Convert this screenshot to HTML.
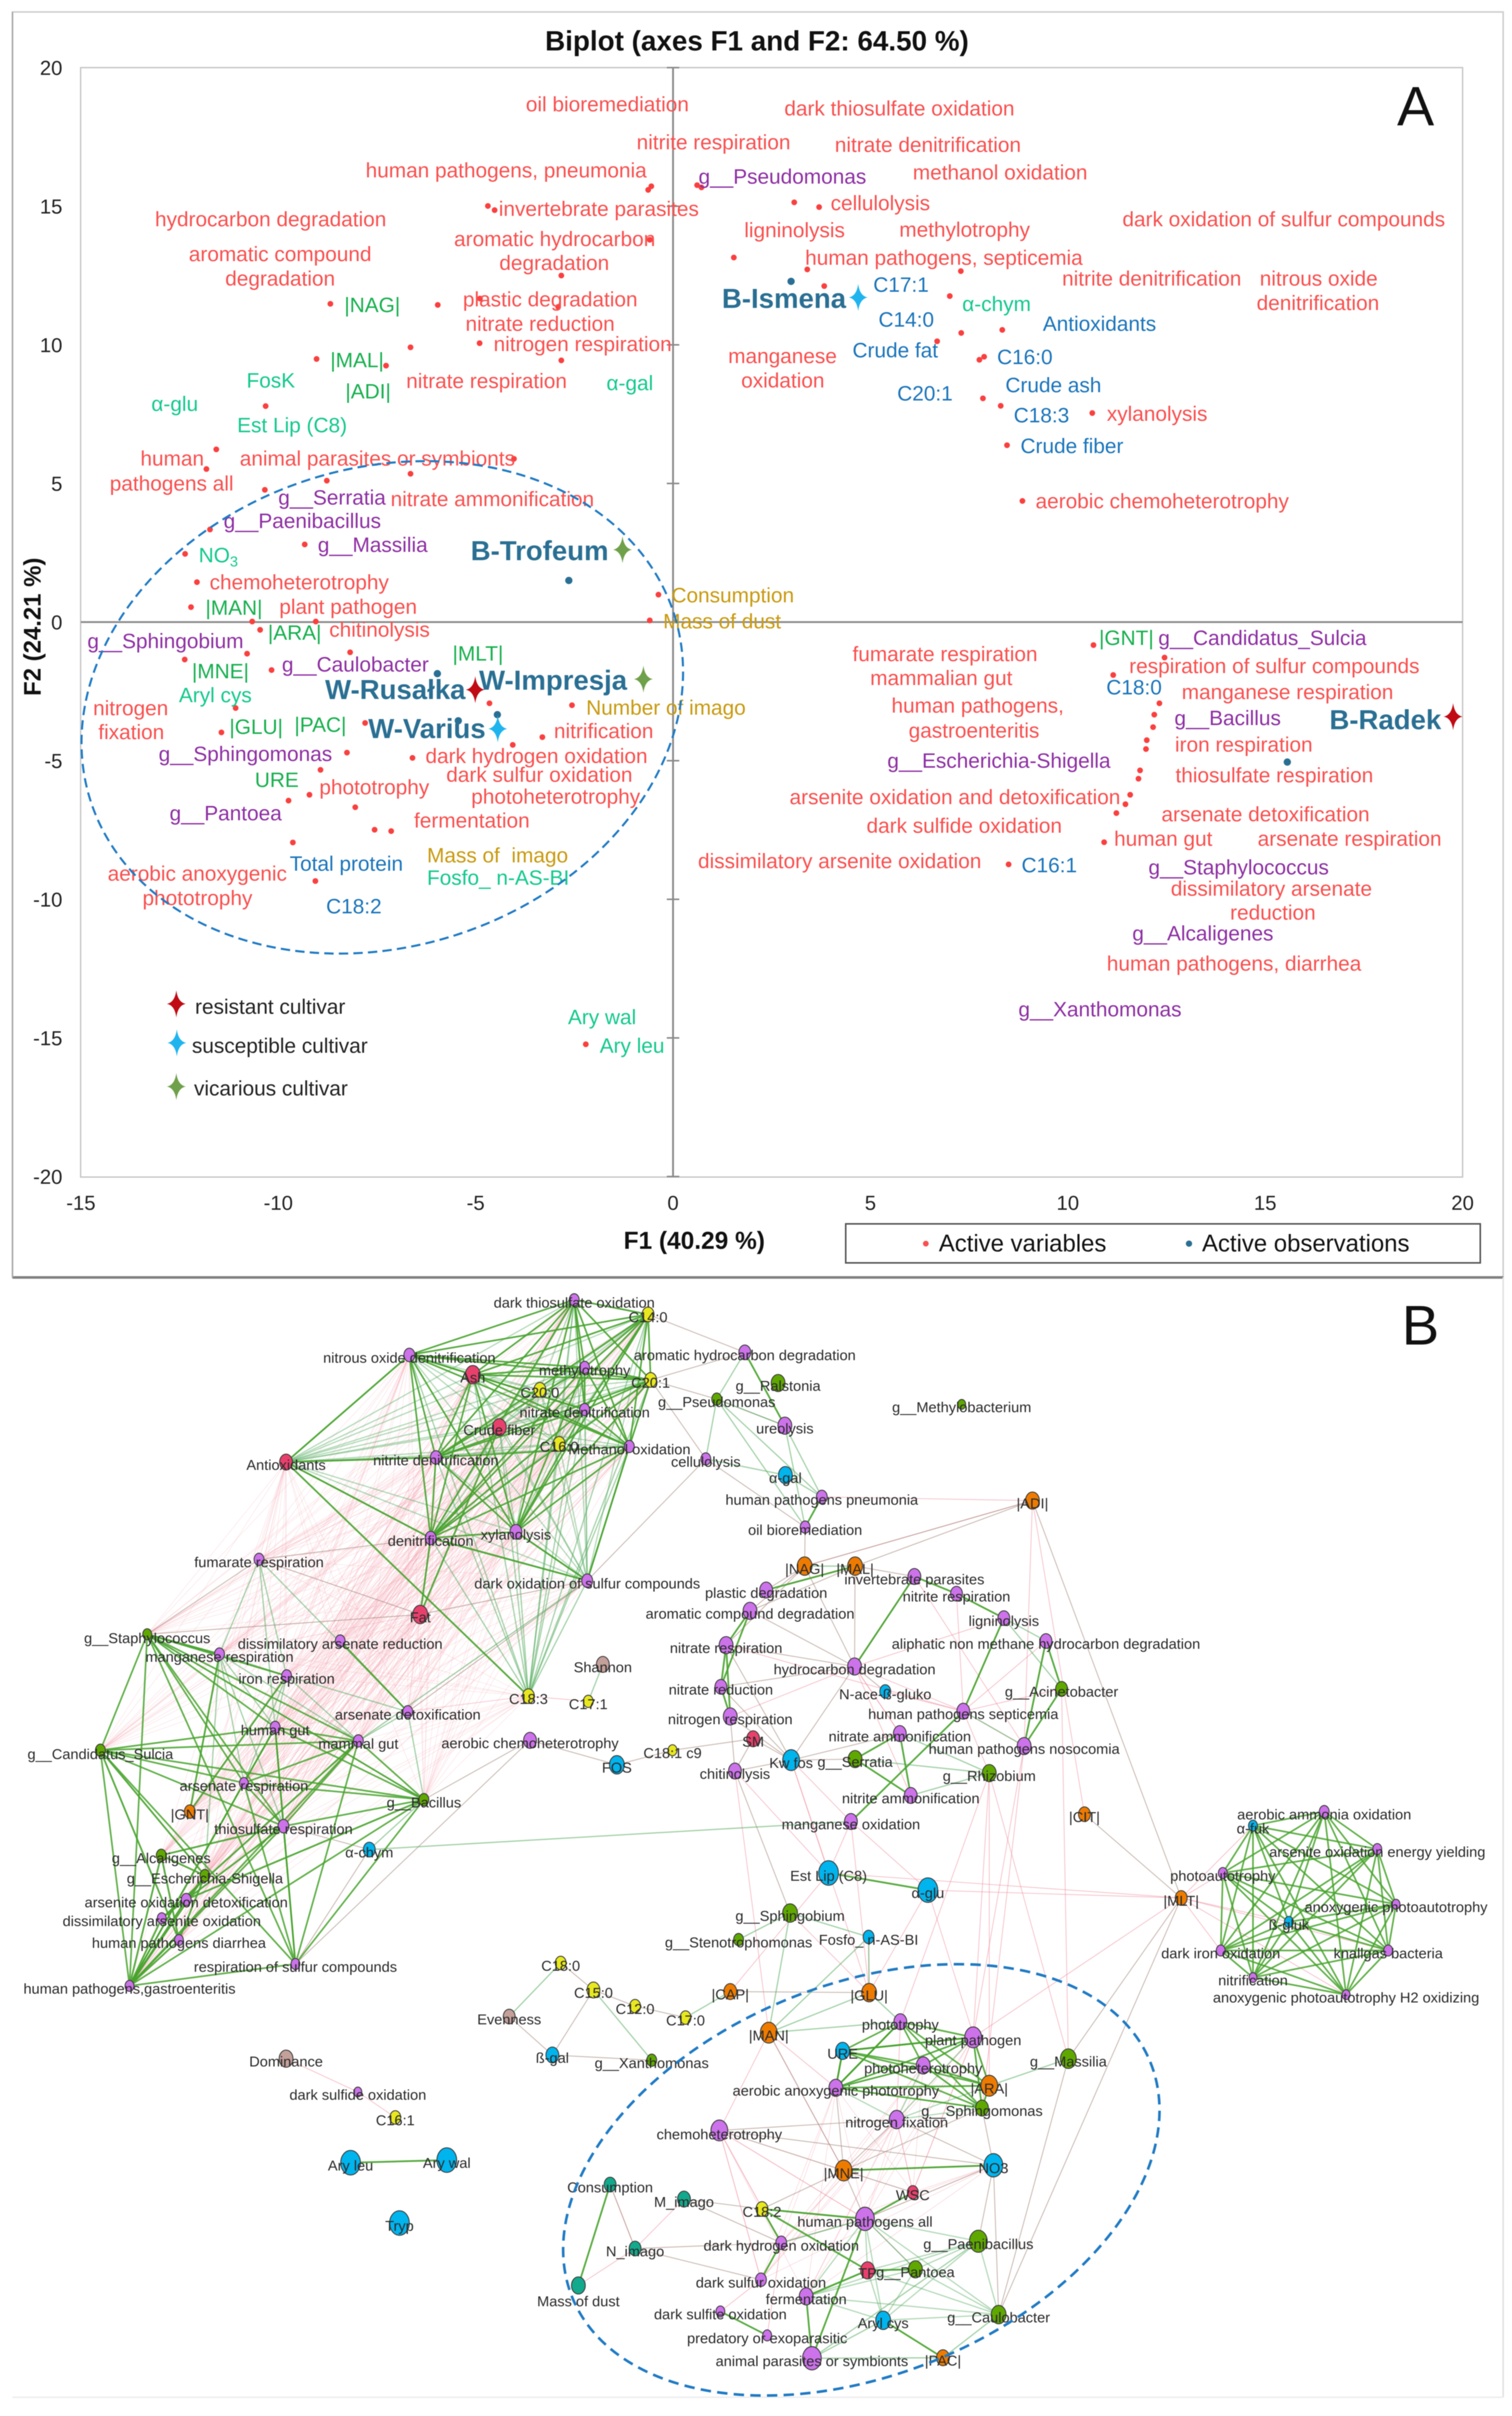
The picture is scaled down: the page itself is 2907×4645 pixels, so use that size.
<!DOCTYPE html>
<html lang="en">
<head>
<meta charset="utf-8">
<title>Biplot and correlation network</title>
<style>
html,body{margin:0;padding:0;background:#fff}
svg{display:block;font-family:"Liberation Sans",sans-serif}
.r{fill:#f9504f}.p{fill:#8e2fa3}.g{fill:#17b04f}.t{fill:#14c98e}.b{fill:#1b75bb}.y{fill:#c99a10}
.lb text{font-size:40px}
.lb text.o{fill:#2a6f93;font-weight:700;font-size:53px}
.k{fill:#222;font-size:40px}
.n{font-size:28px;fill:#2b2b2b;text-anchor:middle}
.soft{filter:blur(.9px)}
</style>
</head>
<body>
<svg id="figure" xmlns="http://www.w3.org/2000/svg" width="2907" height="4645" viewBox="0 0 2907 4645">
<rect width="2907" height="4645" fill="#fff"/>

<g id="panelA" class="soft">
<rect x="24" y="23" width="2866" height="2433" fill="none" stroke="#cfcfcf" stroke-width="3"/>
<line x1="24" y1="2456" x2="2890" y2="2456" stroke="#808080" stroke-width="5"/>
<line x1="24" y1="23" x2="24" y2="2456" stroke="#a8a8a8" stroke-width="3"/>
<rect x="155" y="130" width="2657" height="2133" fill="none" stroke="#c4c4c4" stroke-width="2.5"/>
<text x="1048" y="97" font-size="53.5" font-weight="700" fill="#111">Biplot (axes F1 and F2: 64.50 %)</text>
<text x="2686" y="241" font-size="107" fill="#111">A</text>
<text x="1199" y="2401" font-size="47" font-weight="700" fill="#111">F1 (40.29 %)</text>
<text transform="rotate(-90 78 1205)" x="78" y="1205" font-size="46" font-weight="700" fill="#111" text-anchor="middle">F2 (24.21 %)</text>

<g id="axesA"></g>
<g id="pointsA"></g>

<g class="lb">
<text class="r" x="1011" y="214">oil bioremediation</text>
<text class="r" x="1224" y="287">nitrite respiration</text>
<text class="r" x="703" y="341">human pathogens, pneumonia</text>
<text class="p" x="1343" y="353">g__Pseudomonas</text>
<text class="r" x="959" y="415">invertebrate parasites</text>
<text class="r" x="298" y="435">hydrocarbon degradation</text>
<text class="r" x="873" y="473">aromatic hydrocarbon</text>
<text class="r" x="960" y="519">degradation</text>
<text class="r" x="363" y="502">aromatic compound</text>
<text class="r" x="433" y="549">degradation</text>
<text class="g" x="662" y="600">|NAG|</text>
<text class="r" x="890" y="589">plastic degradation</text>
<text class="r" x="895" y="636">nitrate reduction</text>
<text class="r" x="949" y="675">nitrogen respiration</text>
<text class="g" x="635" y="706">|MAL|</text>
<text class="t" x="474" y="745">FosK</text>
<text class="g" x="664" y="766">|ADI|</text>
<text class="r" x="781" y="746">nitrate respiration</text>
<text class="t" x="1166" y="750">α-gal</text>
<text class="t" x="291" y="790">α-glu</text>
<text class="t" x="456" y="831">Est Lip (C8)</text>
<text class="r" x="270" y="895">human</text>
<text class="r" x="211" y="943">pathogens all</text>
<text class="r" x="461" y="895">animal parasites or symbionts</text>
<text class="p" x="535" y="970">g__Serratia</text>
<text class="r" x="751" y="973">nitrate ammonification</text>
<text class="p" x="430" y="1015">g__Paenibacillus</text>
<text class="p" x="611" y="1061">g__Massilia</text>
<text class="t" x="382" y="1081">NO<tspan font-size="28" dy="8">3</tspan></text>
<text class="r" x="403" y="1133">chemoheterotrophy</text>
<text class="g" x="395" y="1182">|MAN|</text>
<text class="r" x="537" y="1180">plant pathogen</text>
<text class="y" x="1291" y="1158">Consumption</text>
<text class="y" x="1275" y="1208">Mass of dust</text>
<text class="g" x="515" y="1230">|ARA|</text>
<text class="r" x="633" y="1224">chitinolysis</text>
<text class="p" x="168" y="1246">g__Sphingobium</text>
<text class="g" x="870" y="1270">|MLT|</text>
<text class="g" x="369" y="1304">|MNE|</text>
<text class="p" x="542" y="1291">g__Caulobacter</text>
<text class="t" x="344" y="1350">Aryl cys</text>
<text class="r" x="179" y="1375">nitrogen</text>
<text class="r" x="189" y="1421">fixation</text>
<text class="g" x="441" y="1411">|GLU|</text>
<text class="g" x="566" y="1407">|PAC|</text>
<text class="y" x="1127" y="1374">Number of imago</text>
<text class="r" x="1065" y="1419">nitrification</text>
<text class="p" x="305" y="1463">g__Sphingomonas</text>
<text class="r" x="818" y="1467">dark hydrogen oxidation</text>
<text class="r" x="858" y="1503">dark sulfur oxidation</text>
<text class="g" x="490" y="1513">URE</text>
<text class="r" x="614" y="1527">phototrophy</text>
<text class="r" x="906" y="1545">photoheterotrophy</text>
<text class="p" x="326" y="1577">g__Pantoea</text>
<text class="r" x="796" y="1591">fermentation</text>
<text class="y" x="821" y="1658" xml:space="preserve">Mass of  imago</text>
<text class="b" x="557" y="1674">Total protein</text>
<text class="r" x="207" y="1693">aerobic anoxygenic</text>
<text class="t" x="821" y="1701">Fosfo_ n-AS-BI</text>
<text class="r" x="274" y="1740">phototrophy</text>
<text class="b" x="627" y="1756">C18:2</text>
<text class="r" x="1342" y="1669">dissimilatory arsenite oxidation</text>
<text class="t" x="1092" y="1969">Ary wal</text>
<text class="t" x="1153" y="2024">Ary leu</text>
<text class="r" x="1508" y="222">dark thiosulfate oxidation</text>
<text class="r" x="1605" y="292">nitrate denitrification</text>
<text class="r" x="1755" y="345">methanol oxidation</text>
<text class="r" x="1597" y="404">cellulolysis</text>
<text class="r" x="2158" y="435">dark oxidation of sulfur compounds</text>
<text class="r" x="1431" y="456">ligninolysis</text>
<text class="r" x="1729" y="455">methylotrophy</text>
<text class="r" x="1548" y="509">human pathogens, septicemia</text>
<text class="r" x="2042" y="549">nitrite denitrification</text>
<text class="r" x="2422" y="549">nitrous oxide</text>
<text class="r" x="2416" y="596">denitrification</text>
<text class="b" x="1679" y="561">C17:1</text>
<text class="t" x="1850" y="598">α-chym</text>
<text class="b" x="1689" y="628">C14:0</text>
<text class="b" x="2005" y="636">Antioxidants</text>
<text class="b" x="1639" y="687">Crude fat</text>
<text class="r" x="1400" y="698">manganese</text>
<text class="r" x="1425" y="745">oxidation</text>
<text class="b" x="1917" y="700">C16:0</text>
<text class="b" x="1933" y="754">Crude ash</text>
<text class="b" x="1725" y="770">C20:1</text>
<text class="b" x="1949" y="812">C18:3</text>
<text class="r" x="2128" y="809">xylanolysis</text>
<text class="b" x="1962" y="871">Crude fiber</text>
<text class="r" x="1991" y="977">aerobic chemoheterotrophy</text>
<text class="g" x="2113" y="1240">|GNT|</text>
<text class="p" x="2227" y="1240">g__Candidatus_Sulcia</text>
<text class="r" x="1639" y="1271">fumarate respiration</text>
<text class="r" x="1673" y="1317">mammalian gut</text>
<text class="r" x="2171" y="1294">respiration of sulfur compounds</text>
<text class="b" x="2127" y="1335">C18:0</text>
<text class="r" x="2272" y="1344">manganese respiration</text>
<text class="r" x="1714" y="1370">human pathogens,</text>
<text class="r" x="1747" y="1418">gastroenteritis</text>
<text class="p" x="2258" y="1394">g__Bacillus</text>
<text class="r" x="2259" y="1445">iron respiration</text>
<text class="p" x="1706" y="1476">g__Escherichia-Shigella</text>
<text class="r" x="2260" y="1504">thiosulfate respiration</text>
<text class="r" x="1518" y="1546">arsenite oxidation and detoxification</text>
<text class="r" x="2233" y="1579">arsenate detoxification</text>
<text class="r" x="1666" y="1601">dark sulfide oxidation</text>
<text class="r" x="2142" y="1626">human gut</text>
<text class="r" x="2418" y="1626">arsenate respiration</text>
<text class="b" x="1964" y="1677">C16:1</text>
<text class="p" x="2208" y="1681">g__Staphylococcus</text>
<text class="r" x="2251" y="1722">dissimilatory arsenate</text>
<text class="r" x="2365" y="1768">reduction</text>
<text class="p" x="2177" y="1808">g__Alcaligenes</text>
<text class="r" x="2128" y="1866">human pathogens, diarrhea</text>
<text class="p" x="1958" y="1954">g__Xanthomonas</text>
<text class="o" x="905" y="1077">B-Trofeum</text>
<text class="o" x="1388" y="592">B-Ismena</text>
<text class="o" x="625" y="1344">W-Rusałka</text>
<text class="o" x="921" y="1326">W-Impresja</text>
<text class="o" x="708" y="1419">W-Varius</text>
<text class="o" x="2556" y="1402">B-Radek</text>
</g>

<ellipse cx="735" cy="1360" rx="589" ry="460" transform="rotate(-17.7 735 1360)" fill="none" stroke="#1f7ac4" stroke-width="4" stroke-dasharray="18 10"/>

<g>
<path d="M339 1904 Q342 1927 357 1930 Q342 1933 339 1956 Q336 1933 321 1930 Q336 1927 339 1904Z" fill="#c00a14"/>
<path d="M340 1979 Q343 2002 358 2005 Q343 2008 340 2031 Q337 2008 322 2005 Q337 2002 340 1979Z" fill="#1fb4ee"/>
<path d="M339 2063 Q342 2086 357 2089 Q342 2092 339 2115 Q336 2092 321 2089 Q336 2086 339 2063Z" fill="#6fa04a"/>
<text class="k" x="375" y="1949">resistant cultivar</text>
<text class="k" x="369" y="2024">susceptible cultivar</text>
<text class="k" x="373" y="2106">vicarious cultivar</text>
</g>

<g>
<rect x="1626" y="2353" width="1220" height="75" fill="#fff" stroke="#555" stroke-width="3"/>
<circle cx="1780" cy="2391" r="5.5" fill="#f9504f"/>
<text x="1805" y="2406" font-size="46" fill="#111">Active variables</text>
<circle cx="2286" cy="2391" r="6" fill="#2a6f93"/>
<text x="2311" y="2406" font-size="46" fill="#111">Active observations</text>
</g>
</g>

<g id="panelB" class="soft">
<line x1="2890" y1="2456" x2="2890" y2="4609" stroke="#e2e2e2" stroke-width="3"/>
<line x1="24" y1="4609" x2="2890" y2="4609" stroke="#eeeeee" stroke-width="3"/>
<text x="2695" y="2585" font-size="108" fill="#111">B</text>
<g id="edgesB"></g>
<g id="nodesB"></g>
<g id="labelsB"></g>
<ellipse cx="1656" cy="4191" rx="600" ry="375" transform="rotate(-22.2 1656 4191)" fill="none" stroke="#1f7ac4" stroke-width="5" stroke-dasharray="20 12"/>
</g>
</svg>

<script>
/* ---------- Panel A: biplot data (axis units) ---------- */
const xTicks = [-15,-10,-5,0,5,10,15,20];
const yTicks = [20,15,10,5,0,-5,-10,-15,-20];
const variableF1 = [-0.55,-0.63,-4.69,-4.52,0.61,0.72,-0.59,1.54,-2.83,-8.68,-5.96,-4.89,-2.91,-6.65,-4.90,-2.83,-9.03,-7.27,-10.32,-11.57,-11.82,-4.03,-6.65,-8.77,-10.34,-11.73,-9.33,-12.36,-12.06,-12.21,-10.66,-9.05,-10.46,-0.37,-0.59,-10.79,-8.18,-12.37,-10.17,-4.65,-2.56,-11.08,-11.44,-7.80,-3.31,-4.06,-8.26,-6.60,-8.93,-9.21,-9.74,-8.05,-7.56,-7.14,-9.63,-9.06,-2.21,3.07,3.70,3.40,7.29,3.83,7.01,7.30,8.34,6.69,7.88,7.76,7.85,8.30,10.62,8.46,8.85,10.65,12.45,11.15,12.32,12.19,12.16,12.00,11.98,11.83,11.79,11.58,11.46,11.23,10.92,8.50];
const variableF2 = [15.72,15.59,15.01,14.86,15.76,15.68,13.79,13.15,12.50,11.48,11.44,11.67,11.37,9.91,10.06,9.44,9.49,9.25,7.79,6.23,5.52,5.89,5.35,5.10,4.77,3.34,2.80,2.46,1.44,0.54,0.02,0.02,-0.28,0.99,0.06,-1.14,-1.09,-1.35,-1.73,-2.93,-3.00,-3.10,-3.98,-3.64,-4.15,-4.43,-4.71,-4.90,-5.33,-6.23,-6.44,-6.68,-7.49,-7.54,-7.95,-9.34,-15.23,15.14,14.97,12.72,12.66,12.12,11.76,10.43,10.54,10.13,9.57,9.46,8.07,7.80,7.54,6.38,4.37,-0.83,-1.28,-1.91,-2.93,-3.34,-3.79,-4.26,-4.58,-5.35,-5.65,-6.23,-6.57,-6.89,-7.94,-8.74];
const observationF1 = [-2.64,2.99,-5.97,-4.45,-5.44,15.56];
const observationF2 = [1.50,12.29,-1.86,-3.34,-3.56,-5.05];
const cultivarNames = ["B-Trofeum","B-Ismena","W-Rusalka","W-Impresja","W-Varius","B-Radek"];
const cultivarF1 = [-1.28,4.69,-5.01,-0.75,-4.44,19.76];
const cultivarF2 = [2.61,11.71,-2.44,-2.06,-3.85,-3.41];
const cultivarClass = ["vicarious","susceptible","resistant","vicarious","susceptible","resistant"];

const SVGNS = "http://www.w3.org/2000/svg";
const xA = v => 1294 + v * 75.9;
const yA = v => 1196 - v * 53.3;
const classColor = {resistant:"#c00a14", susceptible:"#1fb4ee", vicarious:"#6fa04a"};
const axesA = document.getElementById("axesA");
const pointsA = document.getElementById("pointsA");

function mk(tag, attrs, parent){
  const el = document.createElementNS(SVGNS, tag);
  for (const k in attrs) el.setAttribute(k, attrs[k]);
  parent.appendChild(el);
  return el;
}

const vAxis = mk("line",{x1:xA(0),x2:xA(0),y1:yA(20),y2:yA(-20),stroke:"#8a8a8a","stroke-width":3.5},axesA);


const hAxis = mk("line",{x1:xA(-15),x2:xA(20),y1:yA(0),y2:yA(0),stroke:"#8a8a8a","stroke-width":3.5},axesA);



xTicks.forEach(v => {
  const t = mk("text",{x:xA(v),y:2326,"font-size":39,fill:"#222","text-anchor":"middle"},axesA);
  t.textContent = String(v);
  
  
});
yTicks.forEach(v => {
  const t = mk("text",{x:120,y:yA(v)+14,"font-size":39,fill:"#222","text-anchor":"end"},axesA);
  t.textContent = String(v);
  
  
  const m = mk("line",{x1:xA(0)-12,x2:xA(0)+12,y1:yA(v),y2:yA(v),stroke:"#8a8a8a","stroke-width":3},axesA);
  
  
});

variableF1.forEach((v,i) => {
  const c = mk("circle",{cx:xA(v),cy:yA(variableF2[i]),r:5.5,fill:"#f9403f"},pointsA);
  
  
});
observationF1.forEach((v,i) => {
  const c = mk("circle",{cx:xA(v),cy:yA(observationF2[i]),r:7,fill:"#2a6f93"},pointsA);
  
  
});
cultivarF1.forEach((v,i) => {
  const x = xA(v), y = yA(cultivarF2[i]);
  const d = `M${x} ${y-26}Q${x+3} ${y-3} ${x+18} ${y}Q${x+3} ${y+3} ${x} ${y+26}Q${x-3} ${y+3} ${x-18} ${y}Q${x-3} ${y-3} ${x} ${y-26}Z`;
  const s = mk("path",{d:d,fill:classColor[cultivarClass[i]]},pointsA);
  
  
});

/* ---------- Panel B: network data (layout units, id/label/x/y/size) ---------- */
const functionNodes = [
["nod","nitrous oxide denitrification",78.7,260.5,11],["nid","nitrite denitrification",83.8,280.2,11],["den","denitrification",82.8,295.7,11],["xyl","xylanolysis",99.2,294.5,12],["fum","fumarate respiration",49.8,299.8,10],["mnr","manganese respiration",42.2,318.0,10],["dar","dissimilatory arsenate reduction",65.4,315.5,10],["irr","iron respiration",55.1,322.2,10],["ade","arsenate detoxification",78.4,329.1,10],["hgu","human gut",52.9,332.1,10],["mgu","mammal gut",68.9,334.7,10],["are","arsenate respiration",46.9,342.8,9],["thr","thiosulfate respiration",54.5,351.1,11],["aod","arsenite oxidation detoxification",35.8,365.2,10],["dao","dissimilatory arsenite oxidation",31.1,368.8,9],["hpd","human pathogens diarrhea",34.4,373.0,9],["rsc","respiration of sulfur compounds",56.8,377.6,9],["hpg","human pathogens,gastroenteritis",24.9,381.8,9],["dth","dark thiosulfate oxidation",110.4,249.9,10],["mty","methylotrophy",112.4,262.9,10],["ahd","aromatic hydrocarbon degradation",143.2,260.0,12],["ndn","nitrate denitrification",112.4,271.0,10],["mox","Methanol oxidation",121.0,278.1,10],["cel","cellulolysis",135.7,280.5,10],["ure","ureolysis",150.9,274.1,14],["hpp","human pathogens pneumonia",158.0,287.8,11],["oil","oil bioremediation",154.8,293.6,10],["dos","dark oxidation of sulfur compounds",112.9,303.9,11],["inv","invertebrate parasites",175.8,303.1,13],["pla","plastic degradation",147.3,305.7,13],["nir","nitrite respiration",183.9,306.4,12],["acd","aromatic compound degradation",144.2,309.7,14],["lig","ligninolysis",193.0,311.1,12],["nre","nitrate respiration",139.6,316.3,14],["ali","aliphatic non methane hydrocarbon degradation",201.1,315.5,12],["hyd","hydrocarbon degradation",164.3,320.4,14],["nrd","nitrate reduction",138.6,324.3,12],["hps","human pathogens septicemia",185.2,329.0,13],["nrs","nitrogen respiration",140.4,330.0,14],["nam","nitrate ammonification",173.0,333.3,13],["hpn","human pathogens nosocomia",196.9,335.7,14],["ach","aerobic chemoheterotrophy",101.9,334.6,13],["chi","chitinolysis",141.3,340.5,13],["nia","nitrite ammonification",175.1,345.2,13],["mno","manganese oxidation",163.6,350.2,13],["aam","aerobic ammonia oxidation",254.6,348.3,10],["aey","arsenite oxidation energy yielding",264.8,355.5,9],["pau","photoautotrophy",235.1,360.1,9],["ano","anoxygenic photoautotrophy",268.4,366.1,8],["dio","dark iron oxidation",234.7,375.0,9],["knb","knallgas bacteria",266.9,375.0,9],["nif","nitrification",240.9,380.2,8],["h2o","anoxygenic photoautotrophy H2 oxidizing",258.8,383.5,8],["pho","phototrophy",173.1,388.7,13],["ppa","plant pathogen",187.1,391.7,17],["phh","photoheterotrophy",177.5,397.1,14],["aap","aerobic anoxygenic phototrophy",160.7,401.4,14],["nfx","nitrogen fixation",172.4,407.5,15],["che","chemoheterotrophy",138.3,409.6,17],["hpa","human pathogens all",166.3,426.6,19],["dho","dark hydrogen oxidation",150.2,431.2,11],["dsu","dark sulfur oxidation",146.3,438.3,11],["fer","fermentation",155.0,441.5,14],["dsf","dark sulfite oxidation",138.5,444.4,9],["pre","predatory or exoparasitic",147.5,449.0,9],["ani","animal parasites or symbionts",156.1,453.4,19],["dsd","dark sulfide oxidation",68.8,402.2,8]
];
const nutritionNodes = [
["ash","Ash",90.9,264.3,15],["crf","Crude fiber",96.0,274.4,14],["ant","Antioxidants",55.0,281.1,13],["fat","Fat",80.8,310.4,15],["sm","SM",144.8,334.3,13],["wsc","WSC",175.5,421.5,11],["tp","TP",166.8,436.5,14]
];
const fattyAcidNodes = [
["c14","C14:0",124.6,252.7,12],["c21","C20:1",125.1,265.3,12],["c20","C20:0",103.8,267.2,12],["c160","C16:0",107.5,277.6,12],["c183","C18:3",101.6,326.1,12],["c171","C17:1",113.1,327.1,10],["c181","C18:1 c9",129.3,336.5,9],["c180","C18:0",107.8,377.4,11],["c150","C15:0",114.1,382.6,13],["c120","C12:0",122.1,385.7,11],["c170","C17:0",131.8,387.9,11],["c182","C18:2",146.5,424.7,12],["c161","C16:1",76.0,407.1,11]
];
const carbonSourceNodes = [
["gnt","|GNT|",36.5,348.3,11],["adi","|ADI|",198.5,288.5,14],["nag","|NAG|",154.7,301.1,15],["mal","|MAL|",164.4,301.1,15],["cit","|CIT|",208.5,348.8,12],["mlt","|MLT|",227.1,364.9,12],["cap","|CAP|",140.4,382.9,13],["glu","|GLU|",167.1,383.1,15],["man","|MAN|",147.8,390.8,17],["ara","|ARA|",190.2,401.0,17],["mne","|MNE|",162.2,417.3,17],["pac","|PAC|",181.3,453.3,13]
];
const taxaNodes = [
["sta","g__Staphylococcus",28.3,314.2,9],["cas","g__Candidatus_Sulcia",19.3,336.5,10],["bac","g__Bacillus",81.5,346.0,10],["alc","g__Alcaligenes",31.0,356.7,10],["esc","g__Escherichia-Shigella",39.4,360.6,10],["ral","g__Ralstonia",149.6,265.9,14],["pse","g__Pseudomonas",137.8,269.0,10],["met","g__Methylobacterium",184.9,270.0,8],["aci","g__Acinetobacter",204.1,324.7,12],["ser","g__Serratia",164.4,338.2,14],["rhi","g__Rhizobium",190.2,340.9,14],["sph","g__Sphingobium",151.9,367.8,15],["ste","g__Stenotrophomonas",142.0,372.9,10],["xan","g__Xanthomonas",125.3,396.1,10],["mas","g__Massilia",205.4,395.8,16],["spm","g__Sphingomonas",188.8,405.3,13],["pae","g__Paenibacillus",188.1,430.9,18],["pan","g__Pantoea",176.0,436.3,14],["cau","g__Caulobacter",192.0,445.0,15]
];
const enzymeNodes = [
["chy","α-chym",71.0,355.6,12],["gal","α-gal",151.0,283.6,14],["nac","N-ace-ß-gluko",170.2,325.2,11],["fos","FOS",118.6,339.3,15],["kwf","Kw fos",152.1,338.4,17],["est","Est Lip (C8)",159.3,360.1,20],["glc","α-glu",178.4,363.4,20],["fof","Fosfo_ n-AS-BI",167.0,372.4,11],["fuk","α-fuk",240.9,351.0,9],["glk","ß-gluk",247.8,369.5,9],["bga","ß-gal",106.2,395.1,13],["urx","URE",162.0,394.3,14],["no3","NO3",191.0,416.3,19],["ary","Aryl cys",169.8,446.1,15],["ale","Ary leu",67.4,415.8,20],["awa","Ary wal",85.9,415.3,20],["try","Tryp",76.8,427.4,20]
];
const diversityNodes = [
["sha","Shannon",115.9,320.0,13],["eve","Evenness",97.9,387.7,12],["dom","Dominance",55.0,395.8,14]
];
const performanceNodes = [
["con","Consumption",117.3,420.0,12],["mim","M_imago",131.5,422.8,13],["nim","N_imago",122.1,432.3,12],["mdu","Mass of dust",111.2,439.4,14]
];

/* Edges: strong positive correlation cliques, hub lists, and weak negative links */
const strongCliques = [
"dth mty c14 c21 ndn mox den nid nod ash xyl",
"sta cas hgu mgu are bac thr hpg rsc",
"fuk aam aey pau ano glk dio knb nif h2o",
"pho ppa urx phh ara aap spm"
];
const lightCliques = [
"nod ash crf ant nid den xyl dth c14 mty c21 c20 ndn c160 mox dos",
"nfx aap phh spm ara ppa",
"pan tp fer ary hpa cau pae"
];
const strongHubs = [
"ant c183 nid nod den","dos xyl mox den","fat den crf","sta mnr irr","cas esc hpd","hpg hpd dao aod alc esc","thr alc dao","alc hpd esc","esc hpd aod","dar ade","gnt mnr irr","aod bac","dao mgu",
"ahd ure","ser nam nia","nam nia","ali hpn aci","aci hpn","inv nir","nir lig","est glc","mne no3","c182 tp hpa","hpa ani wsc","dho dsu","tp pan fer","fer ani","dsf pre","ary pac","con mdu","ale awa","nre nrd nrs acd","nrd nrs acd","mal pla","inv hyd","lig hps","hps mno","oil hpp","urx aap ppa","aap pho","c182 dho"
];
const lightHubs = [
"c183 nod den nid xyl mty c14 c21 dth ndn mox c160 dos ash crf","fum mnr irr hgu ade","mnr hgu are thr esc irr mgu","irr are hgu ade mgu","ade mgu bac","chy mno bac","sta bac mnr",
"c14 dth","ahd pse","pse cel ure hpp oil","cel gal","gal hpp","ure hpp oil","lig ali aci","ser rhi","nia rhi","nam rhi","hpn hps","nag mal","sph ste fof man","glu fof man","cap c170","sha c171","c150 xan","c180 eve","mas ara","pho glu man","fof man","hpa dho","ary ani","pac cau ani","pae ani","mgu dos"
];
const brownHubs = [
"nag pla acd nre hyd oil","mal inv acd hyd pla","adi mal nag","cit mlt","adi mlt","mas mlt cau","cau mlt","hyd inv nre acd nrd nac","kwf nrs sm nrd chi nre hyd ser nam","chi sph nrs sm","sm c181","c181 fos","fos ach","c180 c150","c150 c120","c120 c170","c150 bga","eve bga","bga xan","cap glu","no3 mne nfx spm hpa pae che cau","mne nfx spm aap che hpa wsc man","che nfx","con nim","mim c182 dho","c182 hpa mne","nim dsu dho","cel oil dos","dos fat ade","fum den fat","sta fat fum","hpa pan dho","rsc chy ach","bac ach","thr chy","ahd c14 c21","c21 pse cel","ure pse"
];
const pinkHubs = [
"adi nag hpp cit","mlt glc est pau fuk glk dio knb h2o ppa","rhi ara mas ppa pho","hpn ppa spm adi","aci mas hps","est cap mno kwf","glc glu ara mno","kwf glu mno","fof glu","mno glu","chi man est","sph glu","c171 c183","dom dsd","dsd c161","mim nim","nim mdu","con nim","man aap che mne","che hpa dsu","che dho","pho nfx","wsc nfx ppa","inv hpn","nir hps","ali hpn hps","lig hyd hps","hps hyd nac rhi hpn","nam hyd","hyd nam nia","nrs hyd","pre dho","dsf dsu","nre hps"
];
const pinkCrossA = ["nod ash crf ant nid den xyl dth c14 mty c21 c20 ndn c160 mox dos c183 fat","nfx ppa phh aap che no3"];
const pinkCrossB = ["fum sta cas mnr dar irr ade hgu mgu are bac thr gnt alc esc aod hpd hpg","hpa dho dsu fer wsc"];
const pinkCrossOpacity = [0.2,0.3];

const toPx = v => v * 10;
const groupStyle = [
 [functionNodes,"#cc72ea","function"],
 [nutritionNodes,"#e8406c","nutrition"],
 [fattyAcidNodes,"#e8e81e","fatty-acid"],
 [carbonSourceNodes,"#ee7b00","carbon-source"],
 [taxaNodes,"#5fa800","taxon"],
 [enzymeNodes,"#00b4ee","enzyme"],
 [diversityNodes,"#c4a09a","diversity"],
 [performanceNodes,"#12a98c","performance"]
];
const labelShift = {"mdu":30,"sta":7,"cas":7,"che":7};
const pos = {};
groupStyle.forEach(g => g[0].forEach(n => { pos[n[0]] = [toPx(n[2]), toPx(n[3])]; }));

const edgesB = document.getElementById("edgesB");
function edge(a,b,color,width,op,name){
  if(!pos[a]||!pos[b]) return;
  const l = mk("line",{x1:pos[a][0],y1:pos[a][1],x2:pos[b][0],y2:pos[b][1],stroke:color,"stroke-width":width,"stroke-opacity":op},edgesB);
  
  
}
function clique(str,color,width,op,name){
  const ids = str.split(" ");
  ids.forEach((a,i)=>ids.slice(i+1).forEach(b=>edge(a,b,color,width,op,name)));
}
function hub(str,color,width,op,name){
  const ids = str.split(" ");
  ids.slice(1).forEach(b=>edge(ids[0],b,color,width,op,name));
}
pinkCrossA.forEach((s,i)=>{
  s.split(" ").forEach(a=>pinkCrossB[i].split(" ").forEach(b=>edge(a,b,"#ee8fa0",1.4,pinkCrossOpacity[i],"negative-edge")));
});
pinkHubs.forEach(s=>hub(s,"#ee8fa0",1.6,.55,"negative-edge"));
brownHubs.forEach(s=>hub(s,"#a98c80",1.8,.6,"mixed-edge"));
lightCliques.forEach(s=>clique(s,"#59ad63",2.4,.45,"weak-positive-edge"));
lightHubs.forEach(s=>hub(s,"#59ad63",2.4,.55,"weak-positive-edge"));
strongCliques.forEach(s=>clique(s,"#47a32c",3.2,.85,"strong-positive-edge"));
strongHubs.forEach(s=>hub(s,"#47a32c",3.4,.9,"strong-positive-edge"));

const nodesB = document.getElementById("nodesB");
const labelsB = document.getElementById("labelsB");
groupStyle.forEach(g => g[0].forEach(n => {
  const x = toPx(n[2]), y = toPx(n[3]);
  const c = mk("ellipse",{cx:x,cy:y,rx:n[4]*0.95,ry:n[4]*1.18,fill:g[1],stroke:"#3d3d3d","stroke-width":1.8},nodesB);
  
  
  const dy = labelShift[n[0]] !== undefined ? labelShift[n[0]] : 5;
  const t = mk("text",{x:x,y:y+dy+10,class:"n"},labelsB);
  t.textContent = n[1];
  
  
}));
</script>
</body>
</html>
